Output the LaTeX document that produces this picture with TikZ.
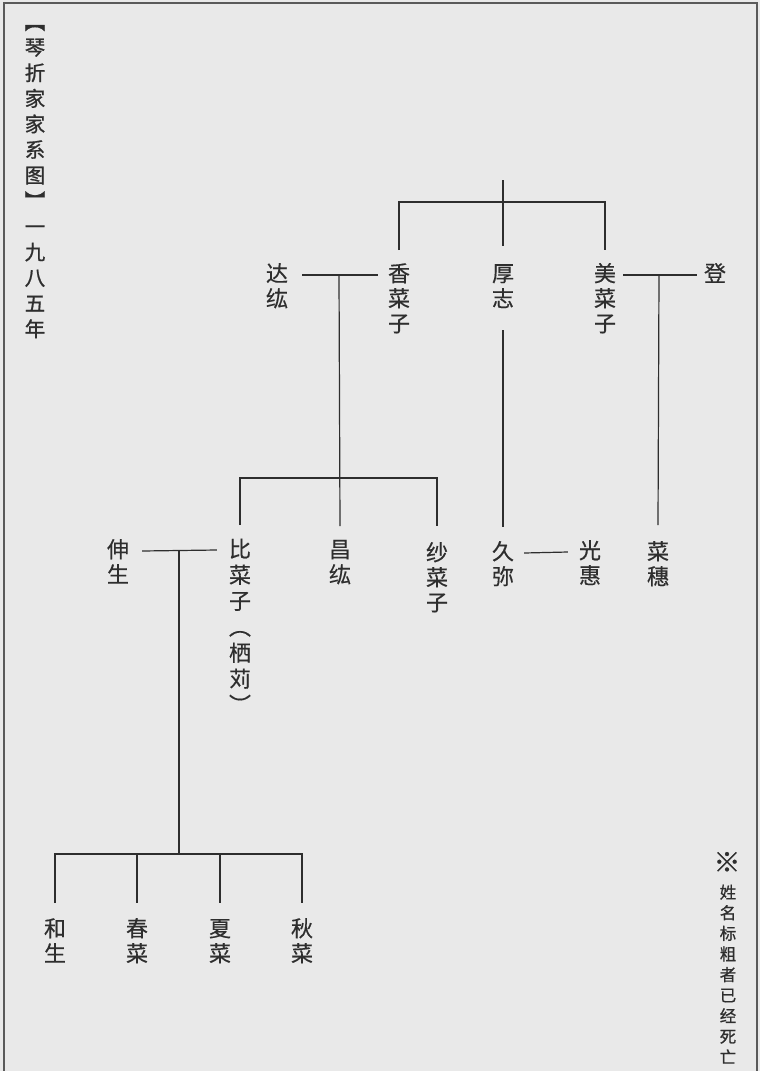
\documentclass[tikz,border=0pt]{standalone}
\usepackage{fontspec}
\newfontfamily\cjk[FakeBold=0.4]{Noto Sans CJK SC}
\newfontfamily\cjkt[FakeBold=0.9]{Noto Sans CJK SC}
\newdimen\vsp
\newcommand\vtxt[2]{\vsp=#1\relax\vbox{\offinterlineskip\vtxtloop#2\relax}}
\def\vtxtloop#1{\ifx\relax#1\else\hbox to 1em{\hss\vrule height\dimexpr 0.5\vsp+0.38em\relax depth\dimexpr 0.5\vsp-0.38em\relax width0pt #1\hss}\expandafter\vtxtloop\fi}
\definecolor{bg}{HTML}{E9E9E9}
\definecolor{ink}{HTML}{2E2E2E}
\definecolor{framec}{HTML}{5A5A5A}
\begin{document}
\begin{tikzpicture}[x=1pt,y=-1pt,
  nm/.style={inner sep=0pt, anchor=north, text=ink, font=\cjk\fontsize{22}{25}\selectfont},
  ttl/.style={inner sep=0pt, anchor=north, text=ink, font=\cjkt\fontsize{20.5}{25}\selectfont},
  nt/.style={inner sep=0pt, anchor=north, text=ink, font=\cjkt\fontsize{16.5}{20}\selectfont},
  ln/.style={draw=ink, line width=1.2pt},
  frm/.style={draw=framec, line width=1.4pt}]
\useasboundingbox (0,0) rectangle (760,1071);
\fill[bg] (0,0) rectangle (760,1071);
\draw[frm] (4,1080) -- (4,3) -- (757,3) -- (757,1080);
% title and note
\node[ttl] (title) at (35,8.6) {\vtxt{25.6pt}{︻琴折家家系图︼一九八五年}};
\node[inner sep=0pt, text=ink, font=\cjk\fontsize{27}{27}\selectfont] (mark) at (727,862) {※};
\node[nt] (note) at (728,881.7) {\vtxt{20.6pt}{姓名标粗者已经死亡}};
% generation 1
\node[nm] (dahong) at (277,260.5) {\vtxt{25pt}{达纮}};
\node[nm] (xiang)  at (399,260.5) {\vtxt{25pt}{香菜子}};
\node[nm] (hou)    at (503,260.5) {\vtxt{25pt}{厚志}};
\node[nm] (mei)    at (605,260.5) {\vtxt{25pt}{美菜子}};
\node[nm] (deng)   at (715,260.5) {\vtxt{25pt}{登}};
% generation 2
\node[nm] (shen)   at (118,536.5) {\vtxt{25pt}{伸生}};
\node[nm] (bi)     at (240,535.5) {\vtxt{26pt}{比菜子︵栖苅︶}};
\node[nm] (chang)  at (340,536.5) {\vtxt{25pt}{昌纮}};
\node[nm] (sha)    at (437,539.5) {\vtxt{25pt}{纱菜子}};
\node[nm] (jiu)    at (503,538.5) {\vtxt{25pt}{久弥}};
\node[nm] (guang)  at (590,537.5) {\vtxt{25pt}{光惠}};
\node[nm] (caisui) at (658,538.5) {\vtxt{25pt}{菜穗}};
% generation 3
\node[nm] (he)   at (55,915.5)  {\vtxt{25pt}{和生}};
\node[nm] (chun) at (137,915.5) {\vtxt{25pt}{春菜}};
\node[nm] (xia)  at (220,915.5) {\vtxt{25pt}{夏菜}};
\node[nm] (qiu)  at (302,915.5) {\vtxt{25pt}{秋菜}};
% junctions
\coordinate (root) at (503,180);
\coordinate (g0) at (503,202);
\coordinate (m1) at (339,275);
\coordinate (k1) at (339,478);
\coordinate (m2) at (659,275);
\coordinate (m3) at (179,551);
\coordinate (k3) at (179,854);
% connectors
\draw[ln] (root) -- ([yshift=14.5pt]hou.north);
\draw[ln] ([yshift=10.5pt]xiang.north) |- (g0) -| ([yshift=10.5pt]mei.north);
\draw[ln] ([xshift=14pt,yshift=-14.5pt]dahong.north east) -- ([xshift=-10pt,yshift=-14.5pt]xiang.north west);
\draw[ln] (m1) -- ([yshift=10.5pt]chang.north);
\draw[ln] ([yshift=10.5pt]bi.north) |- (k1) -| ([yshift=13.5pt]sha.north);
\draw[ln] ([xshift=7pt,yshift=-14.5pt]mei.north east) -- ([xshift=-7pt,yshift=-14.5pt]deng.north west);
\draw[ln] (m2) -- ([yshift=13.5pt]caisui.north);
\draw[ln] ([yshift=-19.5pt]hou.south) -- ([yshift=11.5pt]jiu.north);
\draw[ln] ([xshift=10pt,yshift=-14.5pt]jiu.north east) -- ([xshift=-11pt,yshift=-14.5pt]guang.north west);
\draw[ln] ([xshift=13pt,yshift=-14.5pt]shen.north east) -- ([xshift=-12pt,yshift=-14.5pt]bi.north west);
\draw[ln] (m3) -- (k3);
\draw[ln] ([yshift=12.5pt]he.north) |- (k3) -| ([yshift=12.5pt]qiu.north);
\draw[ln] (chun.north |- k3) -- ([yshift=12.5pt]chun.north);
\draw[ln] (xia.north |- k3) -- ([yshift=12.5pt]xia.north);
\end{tikzpicture}
\end{document}
